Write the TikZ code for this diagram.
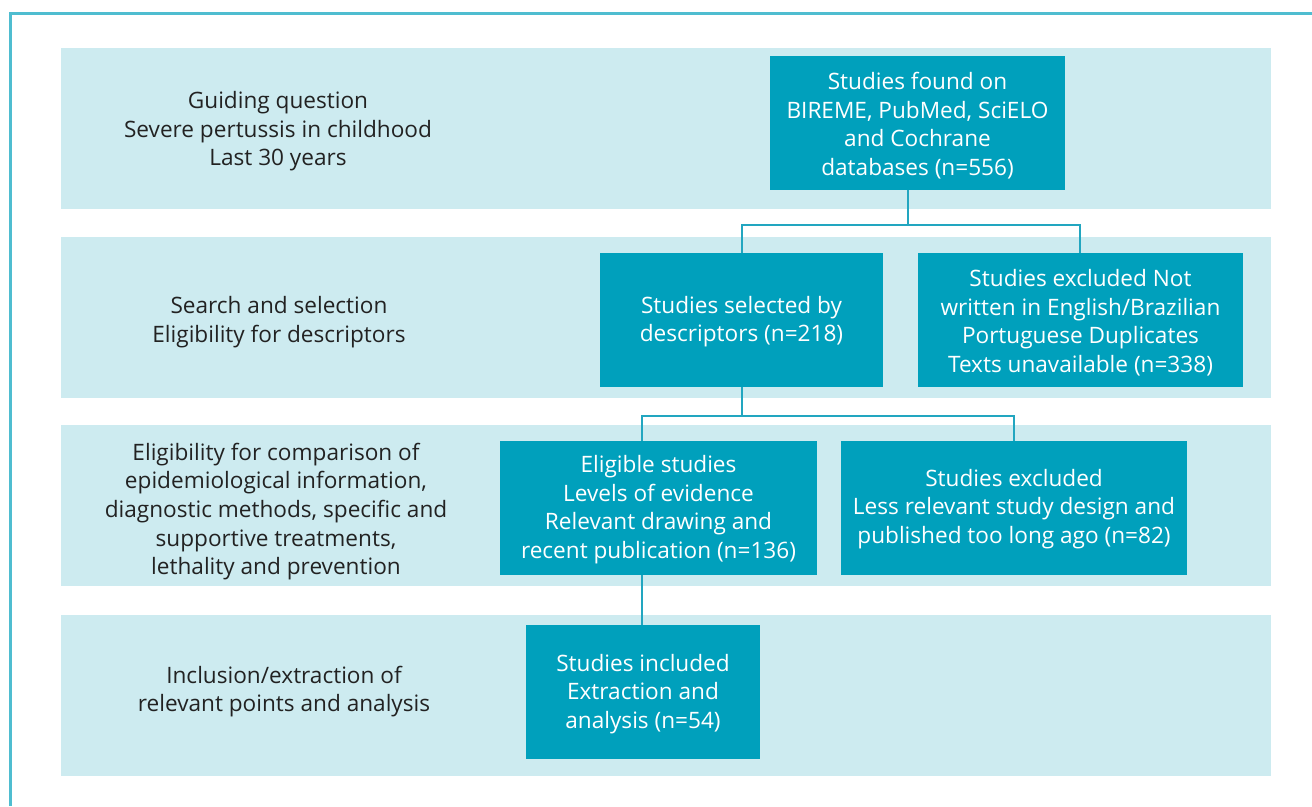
\documentclass[tikz,border=0pt]{standalone}
\usepackage{fontspec}
\setmainfont{Open Sans}
\definecolor{band}{HTML}{CDEBF0}
\definecolor{boxc}{HTML}{00A0BC}
\definecolor{linec}{HTML}{22A6C0}
\definecolor{framec}{HTML}{4FBDD0}
\definecolor{txt}{HTML}{222222}
\tikzset{
  bandbox/.style={fill=band, draw=none},
  stagebox/.style={fill=boxc, draw=none},
  boxtext/.style={text=white, align=center, inner sep=0pt, font=\fontsize{22.6}{28.6}\selectfont},
  labeltext/.style={text=txt, align=center, inner sep=0pt, font=\fontsize{22.6}{28.6}\selectfont},
  conn/.style={draw=linec, line width=1.6pt},
}
\begin{document}
\begin{tikzpicture}[x=1pt,y=-1pt]
\useasboundingbox (0,0) rectangle (1312,806);
\fill[white] (0,0) rectangle (1312,806);
% frame
\draw[framec, line width=2.2pt] (10.5,806) -- (10.5,13.5) -- (1312,13.5);
% bands
\fill[bandbox] (61,48) rectangle (1271,209);
\fill[bandbox] (61,237) rectangle (1271,398);
\fill[bandbox] (61,425) rectangle (1271,586);
\fill[bandbox] (61,615) rectangle (1271,776);
% left labels
\node[labeltext] (l1) at (278,131.5) {Guiding question\\Severe pertussis in childhood\\Last 30 years};
\node[labeltext] (l2) at (279,322) {Search and selection\\Eligibility for descriptors};
\node[labeltext] (l3) at (276,511.5) {Eligibility for comparison of\\epidemiological information,\\diagnostic methods, specific and\\supportive treatments,\\lethality and prevention};
\node[labeltext] (l4) at (284,691.5) {Inclusion/extraction of\\relevant points and analysis};
% boxes
\fill[stagebox] (770,56) rectangle (1065,190);
\node[boxtext] (found) at (917.5,125.5) {Studies found on\\BIREME, PubMed, SciELO\\and Cochrane\\databases (n=556)};
\fill[stagebox] (600,253) rectangle (883,387);
\node[boxtext] (sel) at (741.5,321.5) {Studies selected by\\descriptors (n=218)};
\fill[stagebox] (918,253) rectangle (1243,387);
\node[boxtext] (exc1) at (1080.5,322.5) {Studies excluded Not\\written in English/Brazilian\\Portuguese Duplicates\\Texts unavailable (n=338)};
\fill[stagebox] (500,441) rectangle (817,575);
\node[boxtext] (elig) at (658.5,509.5) {Eligible studies\\Levels of evidence\\Relevant drawing and\\recent publication (n=136)};
\fill[stagebox] (841,441) rectangle (1187,575);
\node[boxtext] (exc2) at (1014,509) {Studies excluded\\Less relevant study design and\\published too long ago (n=82)};
\fill[stagebox] (526,625) rectangle (760,759);
\node[boxtext] (inc) at (643,694) {Studies included\\Extraction and\\analysis (n=54)};
% anchor coordinates for connectors
\coordinate (foundB) at (908,190);
\coordinate (selT) at (741.7,253);
\coordinate (exc1T) at (1080,253);
\coordinate (selB) at (741.7,387);
\coordinate (eligT) at (641.7,441);
\coordinate (exc2T) at (1013.7,441);
\coordinate (eligB) at (641.7,575);
\coordinate (incT) at (641.7,625);
\draw[conn] (foundB) -- (908,225) coordinate (j1);
\draw[conn] (selT) |- (j1) -| (exc1T);
\draw[conn] (selB) -- (741.7,416) coordinate (j2);
\draw[conn] (eligT) |- (j2) -| (exc2T);
\draw[conn] (eligB) -- (incT);
\end{tikzpicture}
\end{document}
